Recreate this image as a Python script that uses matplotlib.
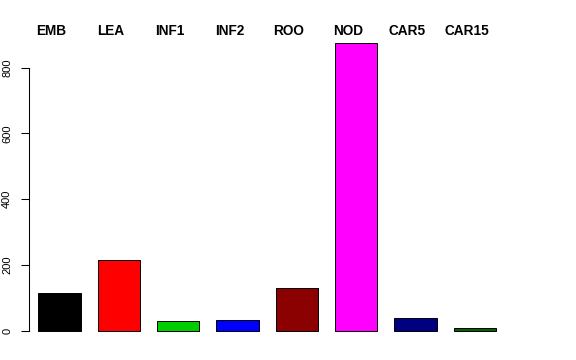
#!/usr/bin/env python

import matplotlib
matplotlib.use('Agg')
import matplotlib.pyplot as plt
import numpy as np

TISSUES = ['EMB', 'LEA', 'INF1', 'INF2', 'ROO', 'NOD', 'CAR5', 'CAR15']
COUNTS = [114, 215, 29, 33, 129, 873, 38, 9]
COLORS = ['black', 'red', '#00CD00', 'blue', '#8B0000', 'magenta',
          '#000080', '#006400']
Y_TICKS = [0, 200, 400, 600, 800]

plt.rcParams['font.family'] = ['Liberation Sans', 'DejaVu Sans']

if __name__ == '__main__':
    fig = plt.figure(figsize=(5.76, 3.6), dpi=100)
    # axes placed like R's default plot region
    ax = fig.add_axes([20.0 / 576, 0.0494, 494.2 / 576, 0.8617])

    # R barplot: width 1, space 0.4
    lefts = 0.4 + 1.4 * np.arange(len(COUNTS))
    centers = lefts + 0.5
    ax.bar(centers, COUNTS, width=1.0, color=COLORS, edgecolor='black',
           linewidth=0.7)

    ymax = max(COUNTS)
    ax.set_xlim(-0.032, 11.632)
    ax.set_ylim(-0.04 * ymax, 1.04 * ymax)

    for sp in ['top', 'right', 'bottom']:
        ax.spines[sp].set_visible(False)
    ax.spines['left'].set_position(('data', 0.187))
    ax.spines['left'].set_bounds(Y_TICKS[0], Y_TICKS[-1])
    ax.spines['left'].set_linewidth(0.75)
    ax.set_xticks([])
    ax.set_yticks(Y_TICKS)
    ax.set_yticklabels([str(t) for t in Y_TICKS], rotation=90, va='center',
                       fontsize=8)
    ax.tick_params(axis='y', length=5.8, width=0.75, pad=6.5)

    for x, name in zip(centers, TISSUES):
        ax.text(x - 0.19, 911, name, ha='center', va='center',
                fontsize=9.8, fontweight='bold', clip_on=False)

    plt.savefig('out.png', dpi=100)
